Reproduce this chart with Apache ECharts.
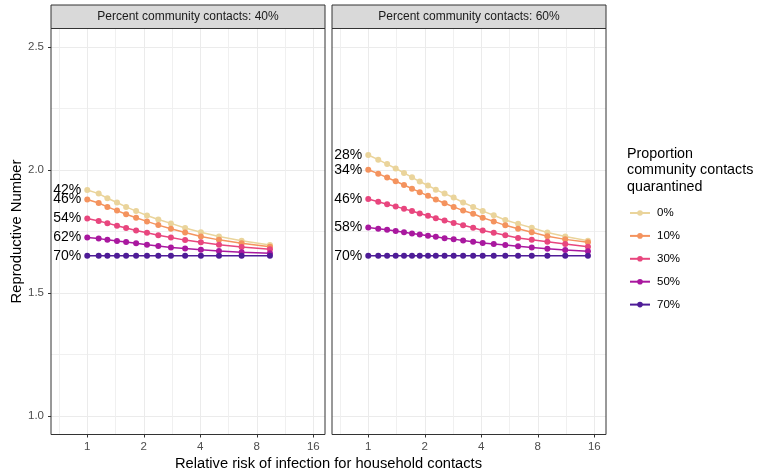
<!DOCTYPE html>
<html>
<head>
<meta charset="utf-8">
<script src="https://cdn.jsdelivr.net/npm/echarts@6/dist/echarts.min.js"></script>
<style>
html,body{margin:0;padding:0;background:#fff;}
#chart{width:759px;height:475px;}
</style>
</head>
<body>
<div id="chart"></div>
<script>
// ---------- data ----------
const panelTitles = ['Percent community contacts: 40%', 'Percent community contacts: 60%'];
const groupNames = ['0%', '10%', '30%', '50%', '70%'];
const groupColors = ['#EAD49B', '#F4935E', '#E8467E', '#A9189F', '#4E1C97'];

const xTickValues = [1, 2, 4, 8, 16];
const yTickValues = [1.0, 1.5, 2.0, 2.5];

// relative risk (x) for each point
const xLeft = [1, 1.15, 1.28, 1.44, 1.61, 1.82, 2.08, 2.39, 2.79, 3.32, 4.03, 5.03, 6.64, 9.4];
const xRight = [1, 1.13, 1.26, 1.40, 1.55, 1.71, 1.88, 2.08, 2.29, 2.55, 2.85, 3.2, 3.62, 4.07, 4.66, 5.37, 6.28, 7.43, 9.0, 11.2, 14.8];

// Reproductive number, left panel (40%)
const left0  = [1.919, 1.904, 1.885, 1.868, 1.850, 1.833, 1.815, 1.799, 1.783, 1.764, 1.747, 1.730, 1.712, 1.695];
const left10 = [1.880, 1.866, 1.850, 1.835, 1.820, 1.806, 1.791, 1.776, 1.761, 1.746, 1.730, 1.716, 1.702, 1.688];
const left30 = [1.803, 1.793, 1.784, 1.773, 1.764, 1.754, 1.745, 1.735, 1.726, 1.715, 1.706, 1.696, 1.687, 1.678];
const left50 = [1.726, 1.722, 1.716, 1.711, 1.707, 1.702, 1.696, 1.691, 1.685, 1.681, 1.676, 1.671, 1.666, 1.662];
const left70 = [1.651, 1.651, 1.651, 1.651, 1.651, 1.651, 1.651, 1.651, 1.651, 1.651, 1.651, 1.651, 1.651, 1.651];

// Reproductive number, right panel (60%)
const right0  = [2.061, 2.042, 2.024, 2.006, 1.988, 1.970, 1.953, 1.937, 1.920, 1.904, 1.888, 1.868, 1.850, 1.833, 1.816, 1.797, 1.781, 1.765, 1.746, 1.730, 1.712];
const right10 = [2.001, 1.985, 1.969, 1.954, 1.939, 1.924, 1.910, 1.895, 1.880, 1.865, 1.850, 1.835, 1.822, 1.806, 1.791, 1.775, 1.761, 1.747, 1.731, 1.718, 1.706];
const right30 = [1.882, 1.871, 1.861, 1.852, 1.842, 1.833, 1.823, 1.814, 1.804, 1.795, 1.785, 1.775, 1.765, 1.754, 1.745, 1.735, 1.724, 1.716, 1.708, 1.699, 1.688];
const right50 = [1.766, 1.761, 1.757, 1.752, 1.747, 1.742, 1.738, 1.733, 1.729, 1.723, 1.719, 1.713, 1.708, 1.703, 1.699, 1.695, 1.690, 1.685, 1.680, 1.675, 1.670];
const right70 = [1.651, 1.651, 1.651, 1.651, 1.651, 1.651, 1.651, 1.651, 1.651, 1.651, 1.651, 1.651, 1.651, 1.651, 1.651, 1.651, 1.651, 1.651, 1.651, 1.651, 1.651];

const leftLabels = ['42%', '46%', '54%', '62%', '70%'];
const rightLabels = ['28%', '34%', '46%', '58%', '70%'];

// ---------- build ----------
const FONT = '"Liberation Sans", Arial, Helvetica, sans-serif';
const XMIN = -0.642, XMAX = 4.207;
const YMIN = 0.925, YMAX = 2.575;
const grids = [
  {left: 51, top: 28.5, width: 274, height: 406},
  {left: 332, top: 28.5, width: 274, height: 406}
];
const log2 = v => Math.log(v) / Math.LN2;
const majorX = xTickValues.map(log2);
const minorX = majorX.map(v => v - 0.5);
const minorY = [];
for (let i = 0; i < yTickValues.length - 1; i++) minorY.push((yTickValues[i] + yTickValues[i + 1]) / 2);

const gridLineStyle = {color: '#EBEBEB', width: 1};
const xAxes = [], yAxes = [];
grids.forEach((g, gi) => {
  xAxes.push({
    type: 'value', gridIndex: gi, min: XMIN, max: XMAX,
    axisLine: {show: false, onZero: false},
    axisTick: {show: true, customValues: majorX, length: 3, lineStyle: {color: '#333333'}},
    axisLabel: {customValues: majorX, formatter: v => String(Math.round(Math.pow(2, v))),
      color: '#4D4D4D', fontSize: 11.5, fontFamily: FONT, margin: 6},
    splitLine: {show: true, lineStyle: gridLineStyle}
  });
  xAxes.push({
    type: 'value', gridIndex: gi, min: XMIN, max: XMAX,
    axisLine: {show: false, onZero: false},
    axisTick: {show: false, customValues: minorX},
    axisLabel: {show: false},
    splitLine: {show: true, lineStyle: {color: '#EEEEEE', width: 0.9}}
  });
  yAxes.push({
    type: 'value', gridIndex: gi, min: YMIN, max: YMAX,
    axisLine: {show: false, onZero: false},
    axisTick: {show: gi === 0, customValues: yTickValues, length: 3, lineStyle: {color: '#333333'}},
    axisLabel: {show: gi === 0, customValues: yTickValues, formatter: v => v.toFixed(1),
      color: '#4D4D4D', fontSize: 11.5, fontFamily: FONT, margin: 7},
    splitLine: {show: true, lineStyle: gridLineStyle}
  });
  yAxes.push({
    type: 'value', gridIndex: gi, min: YMIN, max: YMAX,
    axisLine: {show: false, onZero: false},
    axisTick: {show: false, customValues: minorY},
    axisLabel: {show: false},
    splitLine: {show: true, lineStyle: {color: '#EEEEEE', width: 0.9}}
  });
});

const panels = [
  {xs: xLeft, ys: [left0, left10, left30, left50, left70], labels: leftLabels},
  {xs: xRight, ys: [right0, right10, right30, right50, right70], labels: rightLabels}
];
const series = [];
panels.forEach((p, pi) => {
  p.ys.forEach((vals, si) => {
    series.push({
      type: 'line', name: groupNames[si],
      xAxisIndex: pi * 2, yAxisIndex: pi * 2,
      color: groupColors[si],
      symbol: 'circle', symbolSize: 6, showSymbol: true,
      lineStyle: {width: 1.5, color: groupColors[si]},
      itemStyle: {color: groupColors[si]},
      z: 3 + si,
      animation: false,
      data: vals.map((v, i) => {
        const item = {value: [log2(p.xs[i]), v]};
        if (i === 0) {
          item.label = {show: true, position: 'left', distance: 3, formatter: p.labels[si],
            color: '#000', fontSize: 14, fontFamily: FONT};
        }
        return item;
      })
    });
  });
});

const graphics = [];
grids.forEach((g, gi) => {
  graphics.push({
    type: 'rect', shape: {x: g.left, y: 5, width: g.width, height: 23.5},
    style: {fill: '#D9D9D9', stroke: '#333333', lineWidth: 1}, z: 10
  });
  graphics.push({
    type: 'text', x: g.left + g.width / 2, y: 16.8, z: 11,
    style: {text: panelTitles[gi], fill: '#1A1A1A', font: '12px ' + FONT, textAlign: 'center', textVerticalAlign: 'middle'}
  });
  graphics.push({
    type: 'rect', shape: {x: g.left, y: g.top, width: g.width, height: g.height},
    style: {fill: 'none', stroke: '#333333', lineWidth: 1}, z: 10, silent: true
  });
});
graphics.push({
  type: 'text', x: 17, y: 231.5, rotation: Math.PI / 2, z: 11,
  style: {text: 'Reproductive Number', fill: '#000', font: '14.8px ' + FONT, textAlign: 'center', textVerticalAlign: 'middle'}
});
graphics.push({
  type: 'text', x: 328.5, y: 464, z: 11,
  style: {text: 'Relative risk of infection for household contacts', fill: '#000', font: '14.7px ' + FONT, textAlign: 'center', textVerticalAlign: 'middle'}
});
graphics.push({
  type: 'text', x: 627, y: 146, z: 11,
  style: {text: 'Proportion\ncommunity contacts\nquarantined', fill: '#000', font: '14.3px ' + FONT, lineHeight: 16.3, textAlign: 'left', textVerticalAlign: 'top'}
});

const chart = echarts.init(document.getElementById('chart'), null, {renderer: 'canvas'});
chart.setOption({
  animation: false,
  backgroundColor: '#fff',
  grid: grids.map(g => Object.assign({containLabel: false}, g)),
  xAxis: xAxes,
  yAxis: yAxes,
  legend: {
    orient: 'vertical', left: 624, top: 202,
    data: groupNames,
    itemWidth: 20, itemHeight: 7, itemGap: 10.9,
    textStyle: {fontSize: 11.5, fontFamily: FONT, color: '#000', padding: [0, 0, 0, 2]},
    selectedMode: false
  },
  graphic: graphics,
  series: series
});
</script>
</body>
</html>
